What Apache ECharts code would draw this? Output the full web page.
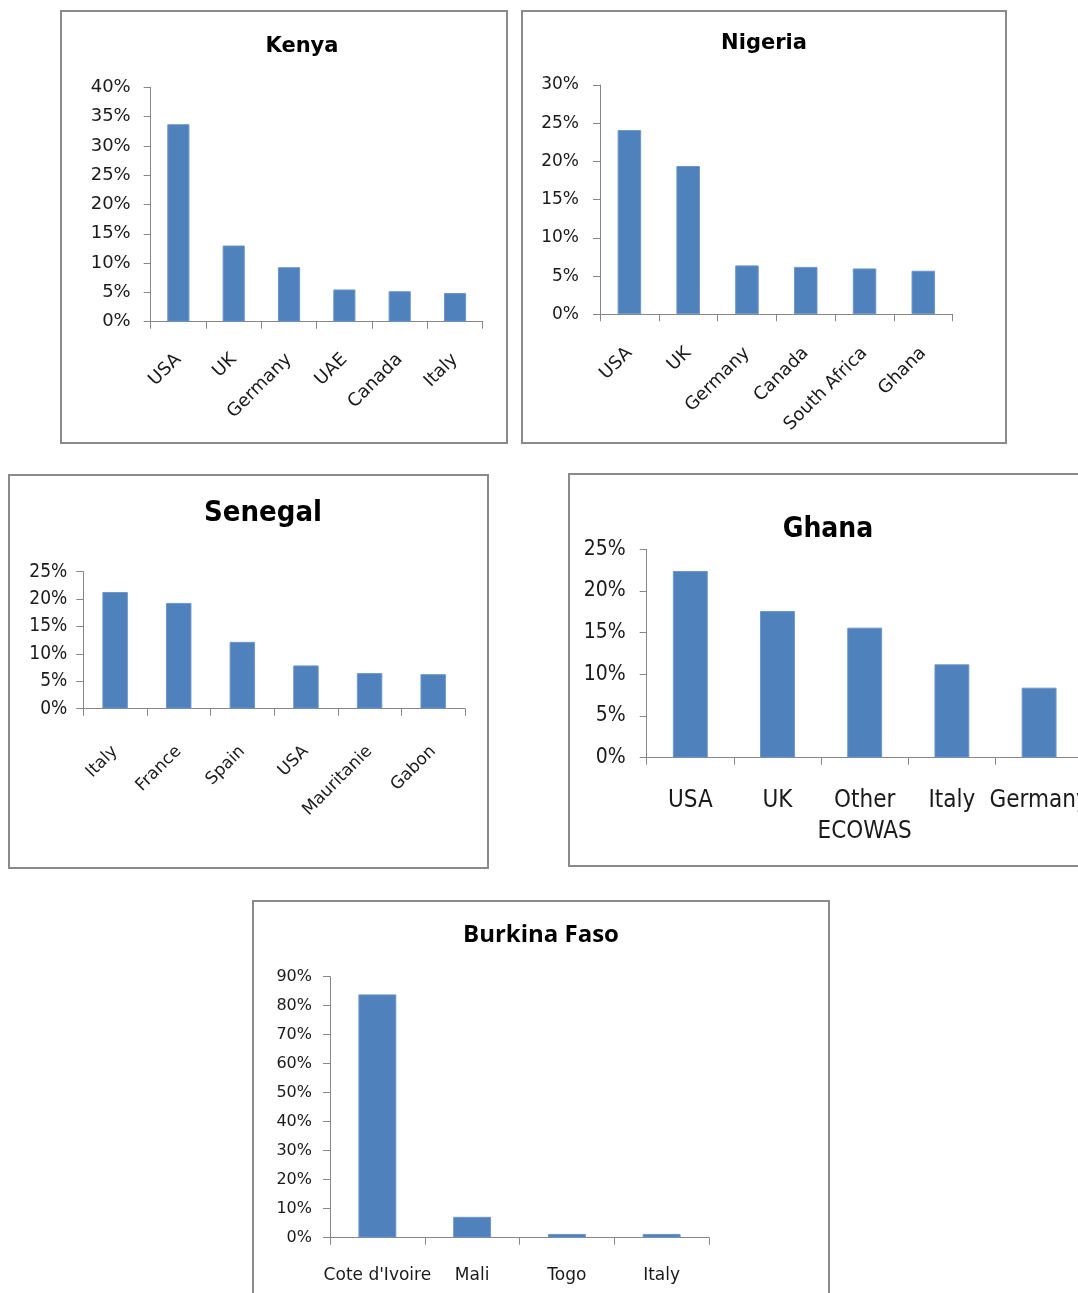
<!DOCTYPE html>
<html>
<head>
<meta charset="utf-8">
<script src="https://cdn.jsdelivr.net/npm/echarts@6/dist/echarts.min.js"></script>
<style>
  html, body { margin: 0; padding: 0; background: #fff; }
  #chartId { width: 1078px; height: 1293px; }
</style>
</head>
<body>
<div id="chartId"></div>
<script>
// data (percent of total)
var kenyaCategories = ['USA', 'UK', 'Germany', 'UAE', 'Canada', 'Italy'];
var kenyaValues = [33.7, 13.0, 9.3, 5.5, 5.2, 4.9];
var kenyaTicks = { max: 40, step: 5 };

var nigeriaCategories = ['USA', 'UK', 'Germany', 'Canada', 'South Africa', 'Ghana'];
var nigeriaValues = [24.1, 19.4, 6.4, 6.2, 6.0, 5.7];
var nigeriaTicks = { max: 30, step: 5 };

var senegalCategories = ['Italy', 'France', 'Spain', 'USA', 'Mauritanie', 'Gabon'];
var senegalValues = [21.3, 19.3, 12.2, 7.9, 6.5, 6.3];
var senegalTicks = { max: 25, step: 5 };

var ghanaCategories = ['USA', 'UK', 'Other\nECOWAS', 'Italy', 'Germany'];
var ghanaValues = [22.4, 17.6, 15.6, 11.2, 8.4];
var ghanaTicks = { max: 25, step: 5 };

var burkinaCategories = ["Cote d'Ivoire", 'Mali', 'Togo', 'Italy'];
var burkinaValues = [83.9, 7.2, 1.3, 1.3];
var burkinaTicks = { max: 90, step: 10 };

var BAR = '#4F81BD';
var AXIS = '#868686';
var TEXT = '#1a1a1a';
var WIDE = 'DejaVu Sans';
var NARROW = '"Liberation Sans Narrow", "DejaVu Sans Condensed", sans-serif';

// one panel = grid + two axes + bar series
var panels = [
    { name: 'Kenya', cats: kenyaCategories, vals: kenyaValues, ticks: kenyaTicks,
      grid: [150.7, 87.3, 332, 234.4], title: [302, 47, 21, WIDE],
      yFont: [18, WIDE, 20], xFont: [18, WIDE, 35], rotate: 45 },
    { name: 'Nigeria', cats: nigeriaCategories, vals: nigeriaValues, ticks: nigeriaTicks,
      grid: [600, 85, 352.7, 229.3], title: [764, 44, 21, WIDE],
      yFont: [17, WIDE, 21], xFont: [18, WIDE, 36], rotate: 45 },
    { name: 'Senegal', cats: senegalCategories, vals: senegalValues, ticks: senegalTicks,
      grid: [83.3, 571.7, 381.7, 137], title: [263, 513, 29, NARROW],
      yFont: [19, NARROW, 16], xFont: [17, WIDE, 40], rotate: 45 },
    { name: 'Ghana', cats: ghanaCategories, vals: ghanaValues, ticks: ghanaTicks,
      grid: [646.7, 549.3, 436, 208.4], title: [828, 530, 28, NARROW],
      yFont: [21, NARROW, 21], xFont: [24, NARROW, 28], rotate: 0 },
    { name: 'Burkina Faso', cats: burkinaCategories, vals: burkinaValues, ticks: burkinaTicks,
      grid: [330, 976.7, 379, 261], title: [541, 935, 24, '"Open Sans"'],
      yFont: [16, WIDE, 18], xFont: [17, WIDE, 22], rotate: 0 }
];

var frames = [
    [61, 11, 446, 432],
    [522, 11, 484, 432],
    [9, 475, 479, 393],
    [569, 474, 520, 392],
    [253, 901, 576, 400]
];

var grids = [], xAxes = [], yAxes = [], series = [], graphics = [];

frames.forEach(function (f) {
    graphics.push({
        type: 'rect', z: -1,
        shape: { x: f[0], y: f[1], width: f[2], height: f[3] },
        style: { fill: '#fff', stroke: '#8a8a8a', lineWidth: 2 }
    });
});

panels.forEach(function (p, i) {
    grids.push({
        left: p.grid[0], top: p.grid[1], width: p.grid[2], height: p.grid[3],
        containLabel: false, outerBoundsMode: 'none'
    });
    xAxes.push({
        type: 'category', gridIndex: i, data: p.cats,
        axisLine: { lineStyle: { color: AXIS, width: 1 } },
        axisTick: { show: true, length: 7, lineStyle: { color: AXIS } },
        axisLabel: {
            interval: 0, rotate: p.rotate, margin: p.xFont[2],
            fontSize: p.xFont[0], fontFamily: p.xFont[1], color: TEXT,
            lineHeight: p.rotate ? undefined : 31
        },
        splitLine: { show: false }
    });
    yAxes.push({
        type: 'value', gridIndex: i, min: 0, max: p.ticks.max, interval: p.ticks.step,
        axisLine: { show: true, lineStyle: { color: AXIS, width: 1 } },
        axisTick: { show: true, length: 7, lineStyle: { color: AXIS } },
        axisLabel: {
            formatter: '{value}%', margin: p.yFont[2],
            fontSize: p.yFont[0], fontFamily: p.yFont[1], color: TEXT
        },
        splitLine: { show: false }
    });
    series.push({
        type: 'bar', xAxisIndex: i, yAxisIndex: i, data: p.vals,
        barWidth: '40%',
        itemStyle: { color: BAR, borderColor: '#6d96c8', borderWidth: 1 },
        animation: false
    });
    graphics.push({
        type: 'text', x: p.title[0], y: p.title[1],
        style: {
            text: p.name, fill: '#000', font: 'bold ' + p.title[2] + 'px ' + p.title[3],
            textAlign: 'center', textVerticalAlign: 'middle'
        }
    });
});

var myChart = echarts.init(document.getElementById('chartId'));
myChart.setOption({
    animation: false,
    backgroundColor: '#fff',
    grid: grids,
    xAxis: xAxes,
    yAxis: yAxes,
    series: series,
    graphic: graphics
});
</script>
</body>
</html>
